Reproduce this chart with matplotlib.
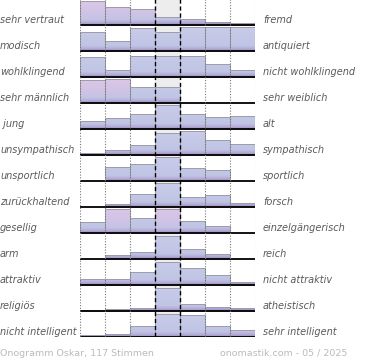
import numpy as np
import matplotlib
matplotlib.use('Agg')
import matplotlib.pyplot as plt
from matplotlib.colors import LinearSegmentedColormap
from matplotlib.patches import Rectangle

# data: bar heights per row (pixel-ish, full cell = 26)
left_labels = ["sehr vertraut", "modisch", "wohlklingend", "sehr männlich", " jung",
               "unsympathisch", "unsportlich", "zurückhaltend", "gesellig", "arm",
               "attraktiv", "religiös", "nicht intelligent"]
right_labels = ["fremd", "antiquiert", "nicht wohlklingend", "sehr weiblich", "alt",
                "sympathisch", "sportlich", "forsch", "einzelgängerisch", "reich",
                "nicht attraktiv", "atheistisch", "sehr intelligent"]
heights = [
    [24.0, 18.3, 15.7, 8.3, 5.7, 3.3, 2.3],
    [19.3, 10.0, 22.7, 18.7, 24.3, 24.3, 24.3],
    [20.5, 7.0, 21.3, 21.3, 21.3, 13.0, 7.0],
    [23.0, 24.0, 16.5, 16.5, 0, 0, 0],
    [8.0, 10.7, 14.7, 24.0, 14.7, 11.7, 12.7],
    [2.3, 4.7, 9.7, 22.3, 23.7, 15.3, 10.7],
    [0, 14.5, 16.7, 23.7, 12.7, 11.3, 0],
    [0, 2.7, 13.3, 23.7, 10.3, 12.3, 4.3],
    [11.3, 24.5, 15.3, 23.7, 12.5, 7.0, 0],
    [0, 4.0, 7.0, 23.5, 10.3, 5.3, 0],
    [6.3, 6.3, 12.7, 23.3, 17.3, 10.0, 2.7],
    [0.8, 2.3, 3.3, 23.3, 7.0, 4.3, 3.3],
    [1.7, 3.3, 10.7, 23.3, 22.3, 10.7, 7.3],
]
pink_cells = [(0, 0), (0, 1), (0, 2), (3, 0), (3, 1), (8, 1), (8, 3)]
footer_left = "Onogramm Oskar, 117 Stimmen"
footer_right = "onomastik.com - 05 / 2025"

scale = 26.0
nrows = len(heights)
ncols = len(heights[0])

blue_cm = LinearSegmentedColormap.from_list(
    'b', [(0, '#c9cdea'), (0.8, '#c1c5e5'), (0.92, '#b3acd6'), (1, '#9a88bf')])
pink_cm = LinearSegmentedColormap.from_list(
    'p', [(0, '#dfc6e6'), (0.45, '#d2c4e6'), (0.8, '#c3c3e4'), (0.92, '#b3acd6'), (1, '#9a88bf')])
grad = np.linspace(0, 1, 60).reshape(-1, 1)

fig = plt.figure(figsize=(3.70, 3.60), dpi=100)
ax = fig.add_axes([80/370, (360-337)/360, 175/370, 338/360])
ax.set_axis_off()

# light grey background in the middle column
ax.add_patch(Rectangle((3, 0), 1, nrows, facecolor='#ededed', edgecolor='none', zorder=0))

for i, row in enumerate(heights):
    for j, h in enumerate(row):
        if h <= 0:
            continue
        hh = h / scale
        rect = Rectangle((j, i + 1 - hh), 1, hh, facecolor='none',
                         edgecolor='#9c9cab', linewidth=0.7, zorder=3)
        ax.add_patch(rect)
        cm = pink_cm if (i, j) in pink_cells else blue_cm
        im = ax.imshow(grad, cmap=cm, vmin=0, vmax=1, extent=(j, j + 1, i + 1, i),
                       aspect='auto', origin='upper', zorder=2, interpolation='bilinear')
        im.set_clip_path(rect)
    ax.plot([0, ncols], [i + 1, i + 1], color='black', linewidth=1.3, zorder=4,
            solid_capstyle='butt')

# vertical guides
for x in [0, 1, 2, 5, 6, 7]:
    ax.plot([x, x], [0, nrows], color='#777777', linewidth=0.8,
            linestyle=(0, (1, 1.5)), zorder=5)
for x in [3, 4]:
    ax.plot([x, x], [0, nrows], color='black', linewidth=1.0,
            linestyle=(0, (3, 2)), zorder=5)

ax.set_xlim(0, ncols)
ax.set_ylim(nrows, 0)

# row labels
for i in range(nrows):
    y = fig.transFigure.inverted().transform(ax.transData.transform((0, i + 0.8)))[1]
    fig.text(0.0, y, left_labels[i], ha='left', va='center', fontsize=7,
             style='italic', color='#5a5a5a')
    fig.text(263/370, y, right_labels[i], ha='left', va='center', fontsize=7,
             style='italic', color='#5a5a5a')

fig.text(0.0, 1 - 353/360, footer_left, ha='left', va='center', fontsize=6.8, color='#bbbbbb')
fig.text(347/370, 1 - 353/360, footer_right, ha='right', va='center', fontsize=6.8, color='#bbbbbb')

fig.savefig('out.png', dpi=100)
